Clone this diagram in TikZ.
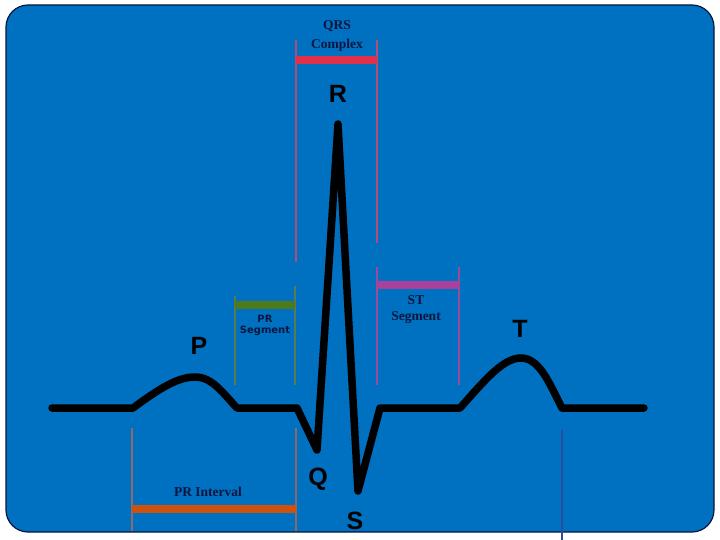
\documentclass[tikz,border=0pt]{standalone}
\usepackage{fontspec}
\setmainfont{Liberation Serif}
\newfontfamily\arialf{Liberation Sans}
\newfontfamily\verdf{DejaVu Sans}
\definecolor{bgblue}{HTML}{0070C0}
\definecolor{navy}{HTML}{0A1640}
\definecolor{qrsred}{HTML}{E0304A}
\definecolor{qrsline}{HTML}{B04C78}
\definecolor{prgreen}{HTML}{4E7A1E}
\definecolor{prgline}{HTML}{5A7A50}
\definecolor{stpurple}{HTML}{A8409C}
\definecolor{stline}{HTML}{9A4C9C}
\definecolor{prorange}{HTML}{D0500E}
\definecolor{priline}{HTML}{8A6A6A}
\definecolor{markline}{HTML}{2A4E9A}
\tikzset{
  wavelabel/.style={font=\arialf\bfseries\fontsize{25}{25}\selectfont, text=black, inner sep=0pt},
  serlabel/.style={font=\bfseries\fontsize{13.5}{13.5}\selectfont, text=navy, inner sep=0pt},
  sanlabel/.style={font=\verdf\bfseries\fontsize{10}{10}\selectfont, text=navy, inner sep=0pt},
  tick/.style={line width=1.5pt},
  bar/.style={line width=8pt},
  ecg/.style={line width=7.5pt, line cap=round, line join=round, black}
}
\begin{document}
\begin{tikzpicture}[x=1pt,y=-1pt]
\useasboundingbox (0,0) rectangle (720,540);
\fill[white] (0,0) rectangle (720,540);
\draw[fill=bgblue, draw=navy, line width=1.2pt, rounded corners=22pt] (6,5) rectangle (714,532);

% QRS complex
\coordinate (qa) at (296,40); \coordinate (qb) at (296,262);
\coordinate (qc) at (377,40); \coordinate (qd) at (377,243);
\draw[tick, qrsline] (qa) -- (qb);
\draw[tick, qrsline] (qc) -- (qd);
\coordinate (qbl) at (296,60); \coordinate (qbr) at (377,60);
\draw[bar, qrsred] (qbl) -- (qbr);
\node[serlabel] (qrs1) at (337,26) {QRS};
\node[serlabel] (qrs2) at (337,45) {Complex};

% PR segment
\coordinate (pa) at (235,296); \coordinate (pb) at (235,385);
\coordinate (pc) at (295,286); \coordinate (pd) at (295,385);
\draw[tick, prgline] (pa) -- (pb);
\draw[tick, prgline] (pc) -- (pd);
\coordinate (pbl) at (235,305); \coordinate (pbr) at (295,305);
\draw[bar, prgreen] (pbl) -- (pbr);
\node[sanlabel] (prs1) at (265,319) {PR};
\node[sanlabel] (prs2) at (265,331) {Segment};

% ST segment
\coordinate (sa) at (377,267); \coordinate (sb) at (377,385);
\coordinate (sc) at (459,267); \coordinate (sd) at (459,385);
\draw[tick, stline] (sa) -- (sb);
\draw[tick, stline] (sc) -- (sd);
\coordinate (sbl) at (377,285); \coordinate (sbr) at (459,285);
\draw[bar, stpurple] (sbl) -- (sbr);
\node[serlabel] (sts1) at (416,300) {ST};
\node[serlabel] (sts2) at (416,318) {Segment};

% PR interval
\coordinate (ia) at (132,428); \coordinate (ib) at (132,531);
\coordinate (ic) at (296,428); \coordinate (id) at (296,531);
\draw[tick, priline] (ia) -- (ib);
\draw[tick, priline] (ic) -- (id);
\coordinate (ibl) at (132,509); \coordinate (ibr) at (296,509);
\draw[bar, prorange] (ibl) -- (ibr);
\node[serlabel] (pri) at (208,492) {PR Interval};

% marker line
\coordinate (ma) at (562,430); \coordinate (mb) at (562,540);
\draw[line width=1.2pt, markline] (ma) -- (mb);

% ECG trace
\coordinate (e0) at (52,408);
\coordinate (e1) at (133,408);
\coordinate (ep) at (195,377);
\coordinate (e2) at (237,408);
\coordinate (e3) at (297,408);
\coordinate (eq) at (317,450);
\coordinate (er) at (338,124);
\coordinate (es) at (358,491);
\coordinate (e4) at (380,408);
\coordinate (e5) at (460,408);
\coordinate (et) at (521,358);
\coordinate (e6) at (562,408);
\coordinate (e7) at (644,408);
\draw[ecg] (e0) -- (e1)
  .. controls (160,388) and (178,377) .. (ep)
  .. controls (212,377) and (222,392) .. (e2)
  -- (e3) -- (eq) -- (er) -- (es) -- (e4) -- (e5)
  .. controls (485,380) and (503,358) .. (et)
  .. controls (540,358) and (550,385) .. (e6)
  -- (e7);

% wave labels
\node[wavelabel] (lr) at (338,94) {R};
\node[wavelabel] (lp) at (199,346) {P};
\node[wavelabel] (lt) at (520,329) {T};
\node[wavelabel] (lq) at (318,479) {Q};
\node[wavelabel] (ls) at (355,521) {S};
\end{tikzpicture}
\end{document}
